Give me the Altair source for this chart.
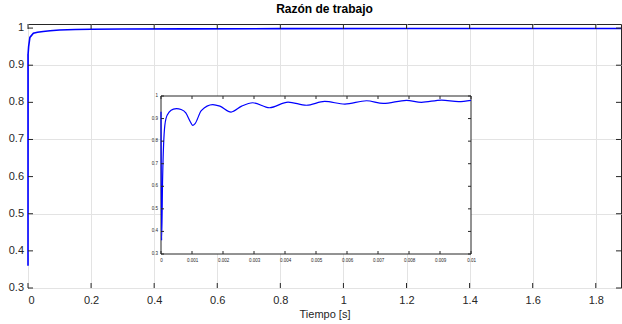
import altair as alt
import pandas as pd

# ---- data ----
main_t = [0, 0.00002, 0.0003, 0.002, 0.006, 0.017, 0.03, 0.048, 0.07, 0.1, 0.15, 0.2, 0.3, 0.5, 0.8, 1.2, 1.6, 1.88]
main_v = [0.93, 0.36, 0.93, 0.95, 0.975, 0.986, 0.989, 0.991, 0.993, 0.995, 0.996, 0.9968, 0.9975, 0.998, 0.9985, 0.9988, 0.999, 0.999]

ins_t = [0, 0.00002, 0.00005, 0.0001, 0.00016, 0.00027, 0.0004, 0.0005, 0.00065, 0.0008, 0.00095, 0.00102, 0.0011,
         0.0013, 0.00167, 0.0019, 0.00226, 0.0026, 0.00296, 0.0035, 0.0041, 0.00469, 0.00528, 0.00593, 0.00663,
         0.00717, 0.00792, 0.0084, 0.00905, 0.0096, 0.01]
ins_v = [0.93, 0.36, 0.62, 0.83, 0.9, 0.93, 0.942, 0.944, 0.94, 0.925, 0.885, 0.87, 0.878,
         0.935, 0.962, 0.955, 0.929, 0.955, 0.97, 0.948, 0.973, 0.959, 0.976, 0.964, 0.979,
         0.967, 0.981, 0.972, 0.982, 0.975, 0.981]

x_ticks = [0, 0.2, 0.4, 0.6, 0.8, 1.0, 1.2, 1.4, 1.6, 1.8]
y_ticks = [0.3, 0.4, 0.5, 0.6, 0.7, 0.8, 0.9, 1.0]
y_labels = ["0.3", "0.4", "0.5", "0.6", "0.7", "0.8", "0.9", "1"]
ins_x_ticks = [0, 0.001, 0.002, 0.003, 0.004, 0.005, 0.006, 0.007, 0.008, 0.009, 0.01]
ins_y_ticks = [0.3, 0.4, 0.5, 0.6, 0.7, 0.8, 0.9, 1.0]

X_DOM = [0, 1.88]
Y_DOM = [0.3, 1.011]
IX_DOM = [0, 0.01]
IY_DOM = [0.3, 1.0]

W, H = 593, 264
FONT = "Liberation Sans"
AX = "#262626"
BLUE = "#0000ff"

df_main = pd.DataFrame({"t": main_t, "v": main_v})
df_ins = pd.DataFrame({"t": ins_t, "v": ins_v})
df_xt = pd.DataFrame({"x": x_ticks})
df_yt = pd.DataFrame({"y": y_ticks, "lab": y_labels})
df_ixt = pd.DataFrame({"x": ins_x_ticks})
df_iyt = pd.DataFrame({"y": ins_y_ticks, "lab": y_labels})

xs = alt.Scale(domain=X_DOM, nice=False, zero=False)
ys = alt.Scale(domain=Y_DOM, nice=False, zero=False)

main_line = alt.Chart(df_main).mark_line(color=BLUE, strokeWidth=1.6).encode(
    x=alt.X("t:Q", scale=xs,
            axis=alt.Axis(values=x_ticks, format=".1~f", title="Tiempo [s]", grid=True,
                          gridColor="#e3e3e3", tickSize=0, domain=False, labelPadding=6,
                          titlePadding=3, labelFontSize=11, titleFontSize=11, labelOverlap=False,
                          labelColor=AX, titleColor=AX, titleFontWeight="normal")),
    y=alt.Y("v:Q", scale=ys,
            axis=alt.Axis(values=y_ticks, title=None, grid=True, labels=False,
                          gridColor="#e3e3e3", tickSize=0, domain=False)),
)

# y tick labels as text (main)
ylab = alt.Chart(df_yt).mark_text(align="right", baseline="middle", fontSize=11, color=AX,
                                  font=FONT, dx=-4).encode(
    y="y:Q", x=alt.datum(X_DOM[0]), text="lab:N")

tb = alt.Chart(df_xt).mark_rule(color=AX, y2Offset=-5).encode(
    x="x:Q", y=alt.datum(Y_DOM[0]), y2=alt.datum(Y_DOM[0]))
tt = alt.Chart(df_xt).mark_rule(color=AX, y2Offset=5).encode(
    x="x:Q", y=alt.datum(Y_DOM[1]), y2=alt.datum(Y_DOM[1]))
tl = alt.Chart(df_yt).mark_rule(color=AX, x2Offset=5).encode(
    y="y:Q", x=alt.datum(X_DOM[0]), x2=alt.datum(X_DOM[0]))
tr = alt.Chart(df_yt).mark_rule(color=AX, x2Offset=-5).encode(
    y="y:Q", x=alt.datum(X_DOM[1]), x2=alt.datum(X_DOM[1]))

main_layer = alt.layer(main_line, tb, tt, tl, tr, ylab)

# ---- inset ----
ixs = alt.Scale(domain=IX_DOM, range=[133, 443], nice=False, zero=False)
iys = alt.Scale(domain=IY_DOM, range=[230, 72], nice=False, zero=False)

ins_bg = alt.Chart(pd.DataFrame({"a": [0]})).mark_rect(fill="white", stroke=AX, strokeWidth=1).encode(
    x=alt.X("x0:Q", scale=ixs,
            axis=alt.Axis(values=ins_x_ticks, format="~g", title=None, orient="bottom", offset=-(H - 230),
                          grid=False, tickSize=0, domain=False, labelFontSize=4.5, labelPadding=3,
                          labelColor=AX, labelFlush=False, labelOverlap=False)),
    x2="x1:Q",
    y=alt.Y("y0:Q", scale=iys, axis=None),
    y2="y1:Q",
).transform_calculate(x0=str(IX_DOM[0]), x1=str(IX_DOM[1]), y0=str(IY_DOM[0]), y1=str(IY_DOM[1]))

ins_line = alt.Chart(df_ins).mark_line(color=BLUE, strokeWidth=1.2, interpolate="monotone").encode(
    x=alt.X("t:Q", scale=ixs), y=alt.Y("v:Q", scale=iys))

iylab = alt.Chart(df_iyt).mark_text(align="right", baseline="middle", fontSize=4.5, color=AX,
                                    font=FONT, dx=-3).encode(
    y=alt.Y("y:Q", scale=iys), x=alt.X(datum=IX_DOM[0], scale=ixs), text="lab:N")

itb = alt.Chart(df_ixt).mark_rule(color=AX, y2Offset=-3).encode(
    x=alt.X("x:Q", scale=ixs), y=alt.Y(datum=IY_DOM[0], scale=iys), y2=alt.datum(IY_DOM[0]))
itt = alt.Chart(df_ixt).mark_rule(color=AX, y2Offset=3).encode(
    x=alt.X("x:Q", scale=ixs), y=alt.Y(datum=IY_DOM[1], scale=iys), y2=alt.datum(IY_DOM[1]))
itl = alt.Chart(df_iyt).mark_rule(color=AX, x2Offset=3).encode(
    y=alt.Y("y:Q", scale=iys), x=alt.X(datum=IX_DOM[0], scale=ixs), x2=alt.datum(IX_DOM[0]))
itr = alt.Chart(df_iyt).mark_rule(color=AX, x2Offset=-3).encode(
    y=alt.Y("y:Q", scale=iys), x=alt.X(datum=IX_DOM[1], scale=ixs), x2=alt.datum(IX_DOM[1]))

ins_layer = alt.layer(ins_bg, ins_line, itb, itt, itl, itr, iylab)

chart = alt.layer(main_layer, ins_layer).resolve_scale(
    x="independent", y="independent"
).resolve_axis(x="independent", y="independent").properties(
    width=W, height=H,
    title=alt.TitleParams("Razón de trabajo", fontSize=12, fontWeight="bold", font=FONT,
                          color="#000000", anchor="middle", offset=6),
    autosize=alt.AutoSizeParams(type="none"),
    padding={"left": 28, "top": 24, "right": 1, "bottom": 36},
).configure(font=FONT).configure_view(stroke=AX, strokeWidth=1).configure_axis(
    labelFont=FONT, titleFont=FONT)

chart.save("out.html", embed_options={"renderer": "svg", "actions": False})
